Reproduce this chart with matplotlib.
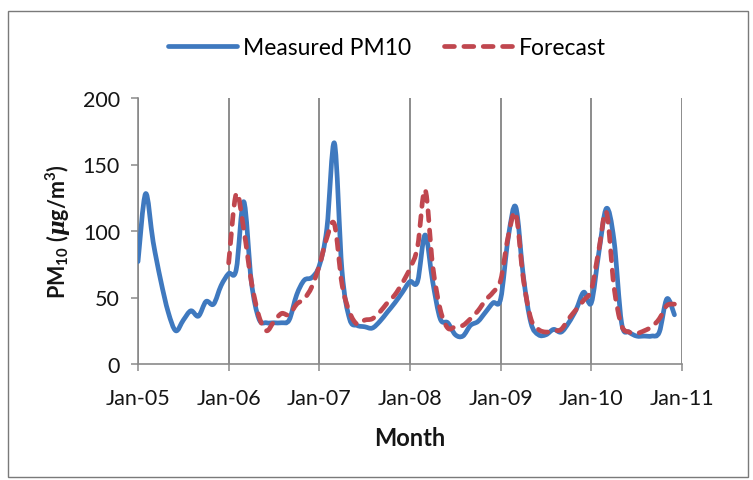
import matplotlib
matplotlib.use("Agg")
import matplotlib.pyplot as plt
import numpy as np
from matplotlib.path import Path
from matplotlib.patches import PathPatch, Rectangle
from matplotlib.lines import Line2D

# ---------------- data ----------------
tick_labels = ["Jan-05", "Jan-06", "Jan-07", "Jan-08", "Jan-09", "Jan-10", "Jan-11"]
tick_months = [0, 12, 24, 36, 48, 60, 72]

# Monthly values, Jan-05 .. Dec-10 (month index 0..71)
measured_months = list(range(0, 72))
measured = [77, 128, 92, 63, 39, 25, 33, 40, 36, 47, 45, 59,
            68, 71, 122, 62, 34, 31, 31, 31, 33, 52, 63, 65,
            74, 102, 166, 70, 34, 29, 28, 27, 32, 39, 46, 54,
            62, 62, 97, 62, 34, 31, 22, 21, 29, 32, 39, 46,
            49, 95, 118, 66, 31, 22, 22, 26, 24, 31, 41, 54,
            46, 84, 117, 93, 31, 24, 21, 21, 21, 24, 49, 37]

# Forecast, Jan-06 .. Dec-10 (month index 12..71)
forecast_months = list(range(12, 72))
forecast = [76, 128, 101, 62, 36, 25, 32, 38, 37, 45, 49, 58,
            74, 95, 105, 60, 39, 30, 33, 34, 39, 46, 52, 61,
            72, 88, 131, 74, 41, 27, 28, 29, 34, 40, 48, 54,
            63, 96, 113, 64, 34, 26, 24, 25, 26, 34, 41, 48,
            56, 86, 114, 58, 29, 24, 23, 25, 28, 34, 44, 45]

# ---------------- style ----------------
BLUE = "#3F79BF"
RED = "#C0474F"
GRID = "#8a8a8a"
FONT = "Lato"

plt.rcParams["font.family"] = [FONT, "DejaVu Sans"]
plt.rcParams["mathtext.fontset"] = "custom"
plt.rcParams["mathtext.rm"] = "Lato:bold"
plt.rcParams["mathtext.bf"] = "Lato:bold"
plt.rcParams["mathtext.it"] = "DejaVu Serif:italic:bold"


def smooth_path(xs, ys):
    """Excel-like smoothed line: Catmull-Rom converted to cubic Bezier."""
    pts = np.column_stack([xs, ys]).astype(float)
    n = len(pts)
    verts = [tuple(pts[0])]
    codes = [Path.MOVETO]
    for i in range(n - 1):
        p0 = pts[max(i - 1, 0)]
        p1 = pts[i]
        p2 = pts[i + 1]
        p3 = pts[min(i + 2, n - 1)]
        c1 = p1 + (p2 - p0) / 6.0
        c2 = p2 - (p3 - p1) / 6.0
        verts += [tuple(c1), tuple(c2), tuple(p2)]
        codes += [Path.CURVE4, Path.CURVE4, Path.CURVE4]
    return Path(verts, codes)


fig = plt.figure(figsize=(7.53, 4.81), dpi=100)
W, H = 753, 481
ax = fig.add_axes([138 / W, 1 - 365 / H, (682 - 138) / W, (365 - 99) / H])

lw = 3.4
dash = (0, (2.1, 2.0))
p_meas = PathPatch(smooth_path(measured_months, measured), fill=False,
                   edgecolor=BLUE, lw=lw, capstyle="round", joinstyle="round", zorder=3)
ax.add_patch(p_meas)
p_fc = PathPatch(smooth_path(forecast_months, forecast), fill=False,
                 edgecolor=RED, lw=lw, linestyle=dash,
                 capstyle="round", joinstyle="round", zorder=4)
ax.add_patch(p_fc)

ax.set_xlim(tick_months[0], tick_months[-1])
ax.set_ylim(0, 200)
ax.set_yticks([0, 50, 100, 150, 200])
ax.set_xticks(tick_months)
ax.set_xticklabels(tick_labels)

for s in ["top", "right"]:
    ax.spines[s].set_visible(False)
for s in ["left", "bottom"]:
    ax.spines[s].set_color(GRID)
    ax.spines[s].set_linewidth(1.2)

ax.xaxis.grid(True, color="#6e6e6e", lw=1.1)
ax.set_axisbelow(True)
ax.tick_params(axis="both", direction="out", length=5, width=1.1, color=GRID,
               labelsize=15.5, labelcolor="#151515")
ax.tick_params(axis="y", pad=8)
ax.tick_params(axis="x", pad=12)

ax.set_ylabel(r"PM$_{10}$ ($\mu$g/m$^{3}$)", fontsize=15.5, fontweight="bold",
              color="#151515")
ax.yaxis.set_label_coords((73 - 138) / (682 - 138), 0.5)
ax.set_xlabel("Month", fontsize=17, fontweight="bold", color="#151515")
ax.xaxis.set_label_coords(0.5, -(427 - 365) / (365 - 99))

handles = [Line2D([], [], color=BLUE, lw=lw, solid_capstyle="round"),
           Line2D([], [], color=RED, lw=lw, linestyle=dash,
                  dash_capstyle="round")]
fig.legend(handles, ["Measured PM10", "Forecast"], loc="center",
           bbox_to_anchor=(387 / W, 1 - 49 / H), ncol=2, frameon=False,
           fontsize=16.5, handlelength=3.0, handletextpad=0.3, columnspacing=1.4)

# outer chart border
fig.patches.append(Rectangle((7.5 / W, 3 / H), (748 - 7.5) / W, (469 - 3) / H,
                             transform=fig.transFigure, fill=False,
                             edgecolor="#7a7a7a", lw=1.0))

fig.savefig("out.png", dpi=100, facecolor="white")
